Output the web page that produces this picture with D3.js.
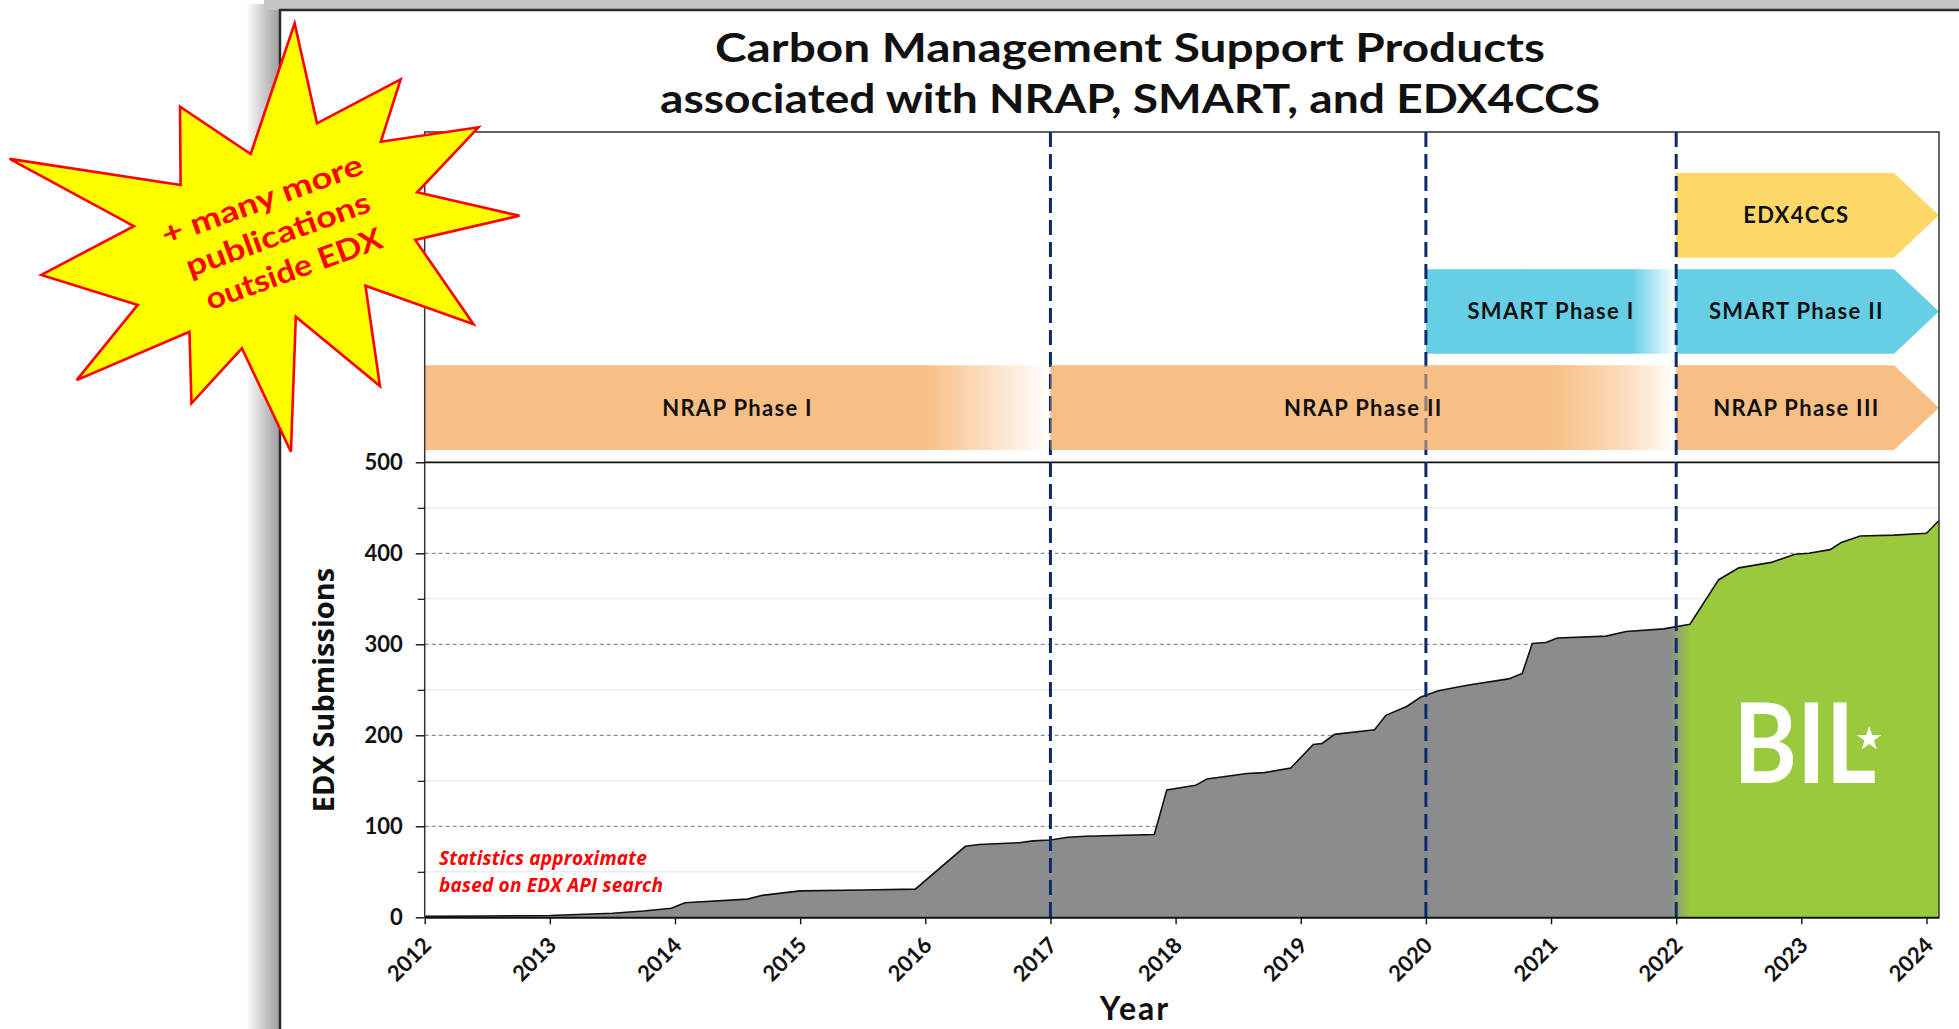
<!DOCTYPE html>
<html>
<head>
<meta charset="utf-8">
<script src="https://cdn.jsdelivr.net/npm/d3@7"></script>
<style>
body{margin:0;background:#fff;}
svg{display:block;}
.tick-label{font-family:Lato, sans-serif;font-weight:700;font-size:22px;fill:#111;}
.band-label{font-family:Lato, sans-serif;font-weight:700;font-size:22px;letter-spacing:1.3px;fill:#111;}
.title{font-family:Lato, sans-serif;font-weight:700;font-size:40px;fill:#111;}
</style>
</head>
<body>
<script>
// cumulative EDX submissions (decimal year, count)
var years = [2012, 2012.5, 2013, 2013.5, 2013.75, 2013.97, 2014.08, 2014.58, 2014.69, 2015,
             2015.5, 2015.92, 2016.32, 2016.43, 2016.75, 2016.86, 2017, 2017.14, 2017.28, 2017.83,
             2017.93, 2018.16, 2018.25, 2018.57, 2018.71, 2018.92, 2019.1, 2019.17, 2019.27, 2019.59,
             2019.68, 2019.85, 2019.96, 2020.1, 2020.33, 2020.66, 2020.77, 2020.85, 2020.96, 2021.05,
             2021.44, 2021.6, 2021.9, 2022.11, 2022.34, 2022.5, 2022.76, 2022.95, 2023.06, 2023.23,
             2023.32, 2023.47, 2023.74, 2024.0, 2024.1];
var submissions = [1, 1.5, 2, 4.5, 7, 10, 16, 20, 24, 29,
                   30, 31, 78, 80, 82, 84, 85, 88, 89, 91,
                   140, 145, 152, 158, 159, 164, 190, 191, 201, 206,
                   222, 232, 242, 249, 255, 262, 268, 301, 302, 307,
                   309, 314, 317, 322, 371, 384, 390, 399, 400, 404,
                   412, 419, 420, 422, 436];

// program phases
var phaseNames = ["NRAP Phase I", "NRAP Phase II", "NRAP Phase III", "SMART Phase I", "SMART Phase II", "EDX4CCS"];
var phaseRows = ["NRAP", "NRAP", "NRAP", "SMART", "SMART", "EDX4CCS"];
var phaseStart = [2012, 2017, 2022, 2020, 2022, 2022];
var phaseEnd = [2017, 2022, 2024.1, 2022, 2024.1, 2024.1];
var phaseFadeFrom = [2016, 2020.95, null, 2021.65, null, null];
var rowNames = ["EDX4CCS", "SMART", "NRAP"];

var milestoneYears = [2017, 2020, 2022];
var bilStart = 2022;
var xTicks = [2012, 2013, 2014, 2015, 2016, 2017, 2018, 2019, 2020, 2021, 2022, 2023, 2024];
var yTicks = [0, 100, 200, 300, 400, 500];
var yMinor = [50, 150, 250, 350, 450];

var titleLines = ["Carbon Management Support Products", "associated with NRAP, SMART, and EDX4CCS"];
var burstLines = ["+ many more", "publications", "outside EDX"];
var noteLines = ["Statistics approximate", "based on EDX API search"];

var W = 1959, H = 1029,
    m = {t:462.3, r:20, b:111.7, l:424.7},
    boxTop = 132,
    rowColor = {NRAP:"#f8bf85", SMART:"#66cfe6", EDX4CCS:"#fdd868"},
    grey = "#8b8c8e",
    green = "#99c93c",
    navy = "#0d2b6b";

var data = years.map(function(d,i){ return {year:d, value:submissions[i]}; });

var x = d3.scaleLinear().domain([2012, 2024.1]).range([m.l, W - m.r]);
var y = d3.scaleLinear().domain([0, 500]).range([H - m.b, m.t]);
var row = d3.scaleBand().domain(rowNames).range([173, 450]).paddingInner(0.12);

var svg = d3.select("body").append("svg").attr("width",W).attr("height",H);
var defs = svg.append("defs");

// window shadow and frame
var shade = defs.append("linearGradient").attr("id","shadeL");
shade.append("stop").attr("offset",0).attr("stop-color","#fff");
shade.append("stop").attr("offset",1).attr("stop-color","#9c9c9c");
svg.append("rect").attr("x",246).attr("y",4).attr("width",34).attr("height",H).attr("fill","url(#shadeL)");
svg.append("rect").attr("x",264).attr("y",0).attr("width",W).attr("height",10).attr("fill","#c4c4c4");
svg.append("path").attr("d","M280,"+H+"V10H"+W).attr("fill","none").attr("stroke","#2b2b2b").attr("stroke-width",2.5);

// title
svg.selectAll(".title").data(titleLines).enter().append("text")
    .attr("class","title")
    .attr("x",1130)
    .attr("y",function(d,i){ return 62 + i*51; })
    .attr("text-anchor","middle")
    .attr("textLength",function(d,i){ return i ? 940 : 830; })
    .attr("lengthAdjust","spacingAndGlyphs")
    .text(function(d){ return d; });

// gridlines
svg.append("g").selectAll("line").data(yMinor).enter().append("line")
    .attr("x1",m.l).attr("x2",W - m.r)
    .attr("y1",function(d){ return y(d); }).attr("y2",function(d){ return y(d); })
    .attr("stroke","#ececec").attr("stroke-width",1.5);
svg.append("g").selectAll("line").data(yTicks.slice(1,-1)).enter().append("line")
    .attr("x1",m.l).attr("x2",W - m.r)
    .attr("y1",function(d){ return y(d); }).attr("y2",function(d){ return y(d); })
    .attr("stroke","#8f8f8f").attr("stroke-width",1.2).attr("stroke-dasharray","4,3");

// area, grey until BIL then green
var ag = defs.append("linearGradient").attr("id","areaGrad").attr("gradientUnits","userSpaceOnUse")
    .attr("x1",x(bilStart) - 6).attr("x2",x(bilStart) + 14).attr("y1",0).attr("y2",0);
ag.append("stop").attr("offset",0).attr("stop-color",grey);
ag.append("stop").attr("offset",1).attr("stop-color",green);

var area = d3.area().x(function(d){ return x(d.year); }).y0(y(0)).y1(function(d){ return y(d.value); });
var line = d3.line().x(function(d){ return x(d.year); }).y(function(d){ return y(d.value); });

svg.append("path").datum(data).attr("d",area).attr("fill","url(#areaGrad)");
svg.append("path").datum(data).attr("d",line).attr("fill","none").attr("stroke","#111").attr("stroke-width",1.6);

// BIL mark
var bil = svg.append("g").attr("transform","translate("+(x(bilStart) + 57)+","+783+")");
bil.append("text").text("BIL")
    .attr("font-family","Lato, sans-serif").attr("font-weight",700).attr("font-size",112)
    .attr("textLength",143).attr("lengthAdjust","spacingAndGlyphs")
    .attr("fill","#fff");
bil.append("path").attr("d",d3.symbol().type(d3.symbolStar).size(190)())
    .attr("transform","translate(136,-44)").attr("fill","#fff");

// phase bands
var tip = 45;
function bandPath(i){
    var x0 = x(phaseStart[i]), x1 = x(phaseEnd[i]),
        y0 = row(phaseRows[i]), y1 = y0 + row.bandwidth();
    if (phaseEnd[i] == x.domain()[1]){
        return "M"+x0+","+y0+"H"+(x1-tip)+"L"+x1+","+((y0+y1)/2)+"L"+(x1-tip)+","+y1+"H"+x0+"Z";
    }
    return "M"+x0+","+y0+"H"+x1+"V"+y1+"H"+x0+"Z";
}
phaseNames.forEach(function(n,i){
    if (phaseFadeFrom[i] == null) return;
    var g = defs.append("linearGradient").attr("id","fade"+i).attr("gradientUnits","userSpaceOnUse")
        .attr("x1",x(phaseFadeFrom[i])).attr("x2",x(phaseEnd[i])).attr("y1",0).attr("y2",0);
    g.append("stop").attr("offset",0).attr("stop-color",rowColor[phaseRows[i]]);
    g.append("stop").attr("offset",1).attr("stop-color",rowColor[phaseRows[i]]).attr("stop-opacity",0);
});
function bandFill(d,i){
    return phaseFadeFrom[i] == null ? rowColor[phaseRows[i]] : "url(#fade"+i+")";
}

svg.append("g").selectAll("path").data(phaseNames).enter().append("path")
    .attr("d",function(d,i){ return bandPath(i); })
    .attr("fill",bandFill);

// plot box and the 500 line
svg.append("path").attr("d","M"+m.l+","+y(0)+"V"+boxTop+"H"+(W-m.r)+"V"+y(0))
    .attr("fill","none").attr("stroke","#333").attr("stroke-width",1.5);
svg.append("line").attr("x1",m.l).attr("x2",W - m.r).attr("y1",y(500)).attr("y2",y(500))
    .attr("stroke","#111").attr("stroke-width",1.8);

// milestone lines
svg.append("g").selectAll("line").data(milestoneYears).enter().append("line")
    .attr("x1",function(d){ return x(d); }).attr("x2",function(d){ return x(d); })
    .attr("y1",boxTop).attr("y2",y(0))
    .attr("stroke",navy).attr("stroke-width",3).attr("stroke-dasharray","15,7");

// bands that a milestone crosses tint the dashes
svg.append("g").selectAll("path")
    .data(phaseNames.filter(function(d,i){
        return milestoneYears.some(function(yr){ return yr > phaseStart[i] && yr < phaseEnd[i]; });
    }))
    .enter().append("path")
    .attr("d",function(d){ return bandPath(phaseNames.indexOf(d)); })
    .attr("fill",function(d){ var i = phaseNames.indexOf(d); return bandFill(d,i); })
    .attr("opacity",0.55);

svg.append("g").selectAll("text").data(phaseNames).enter().append("text")
    .attr("class","band-label")
    .attr("x",function(d,i){
        var x0 = x(phaseStart[i]), x1 = x(phaseEnd[i]);
        if (phaseEnd[i] == x.domain()[1]) x1 -= tip/2;
        return (x0 + x1)/2;
    })
    .attr("y",function(d,i){ return row(phaseRows[i]) + row.bandwidth()/2; })
    .attr("dy","0.36em")
    .attr("text-anchor","middle")
    .text(function(d){ return d; });

// axes
var gx = svg.append("g").attr("transform","translate(0,"+y(0)+")")
    .call(d3.axisBottom(x).tickValues(xTicks).tickFormat(d3.format("d")).tickSize(7).tickSizeOuter(0));
gx.select(".domain").attr("stroke","#111").attr("stroke-width",2);
gx.selectAll(".tick line").attr("stroke","#111").attr("stroke-width",1.4);
gx.selectAll(".tick text").attr("class","tick-label")
    .attr("x",0).attr("y",0).attr("dy","0.35em")
    .attr("transform","translate(2,24) rotate(-45)")
    .style("text-anchor","end");

var gy = svg.append("g").attr("transform","translate("+m.l+",0)")
    .call(d3.axisLeft(y).tickValues(yTicks).tickSize(9).tickPadding(13));
gy.select(".domain").remove();
gy.selectAll(".tick line").attr("stroke","#111").attr("stroke-width",1.4);
gy.selectAll(".tick text").attr("class","tick-label");

var gy2 = svg.append("g").attr("transform","translate("+m.l+",0)")
    .call(d3.axisLeft(y).tickValues(yMinor).tickSize(7).tickFormat(""));
gy2.select(".domain").remove();
gy2.selectAll(".tick line").attr("stroke","#111").attr("stroke-width",1.2);

// axis titles
svg.append("text").text("Year")
    .attr("x",1135).attr("y",1020).attr("text-anchor","middle")
    .attr("font-family","Lato, sans-serif").attr("font-weight",700).attr("font-size",32)
    .attr("letter-spacing",2).attr("fill","#111");
svg.append("text").text("EDX Submissions")
    .attr("transform","translate(334,690) rotate(-90)").attr("text-anchor","middle")
    .attr("font-family","'Open Sans', sans-serif").attr("font-weight",700).attr("font-size",29)
    .attr("fill","#111");

// note
svg.append("g").selectAll("text").data(noteLines).enter().append("text")
    .attr("x",439).attr("y",function(d,i){ return 865 + i*27; })
    .attr("font-family","'Open Sans', sans-serif").attr("font-weight",700)
    .attr("font-style","italic").attr("font-size",19).attr("letter-spacing",0.2)
    .attr("fill","#ff0000")
    .text(function(d){ return d; });

// starburst call-out
var burst = [[5.3,212.6],[20.6,119.3],[38.9,200.1],[48.6,141.1],[62.1,230.2],[73.3,148.4],
             [85.5,245.1],[92,140.3],[114.2,217.6],[119.3,103.7],[145.2,183.9],[165.7,84.3],
             [175.8,217.3],[196.3,118],[206.4,187.9],[221.5,129.1],[233.8,245.8],[243,154],
             [260.3,237.1],[273.6,141.4],[286,276.1],[297.9,106.8],[323.5,159.7],[343.3,84.6]];
var bg = svg.append("g").attr("transform","translate(275,235)");
bg.append("path")
    .attr("d",d3.lineRadial().angle(function(d){ return d[0]*Math.PI/180; })
        .radius(function(d){ return d[1]; }).curve(d3.curveLinearClosed)(burst))
    .attr("fill","#ffff00").attr("stroke","#ff0000").attr("stroke-width",2.6);
bg.append("g").attr("transform","rotate(-20)")
    .selectAll("text").data(burstLines).enter().append("text")
    .attr("x",function(d,i){ return i*3; })
    .attr("y",function(d,i){ return (i-1)*38; })
    .attr("dy","0.36em").attr("text-anchor","middle")
    .attr("font-family","Lato, sans-serif").attr("font-weight",700).attr("font-size",30)
    .attr("textLength",function(d,i){ return [212,194,186][i]; })
    .attr("lengthAdjust","spacingAndGlyphs")
    .attr("fill","#ff0000")
    .text(function(d){ return d; });
</script>
</body>
</html>
